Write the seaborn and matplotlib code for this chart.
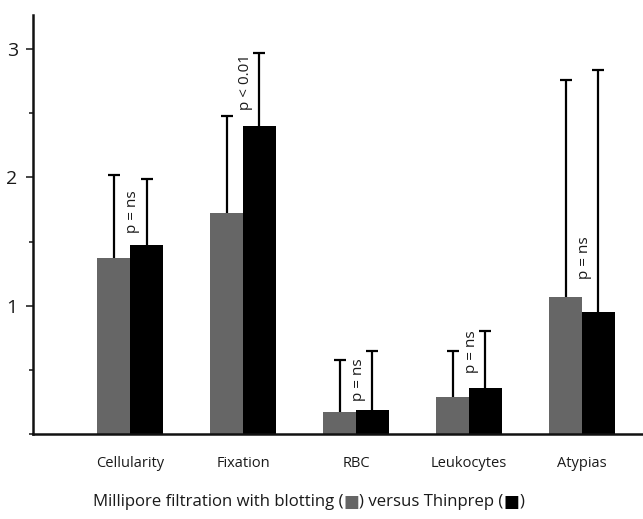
import matplotlib
matplotlib.use("Agg")
import matplotlib.pyplot as plt
from matplotlib.ticker import MultipleLocator
import seaborn as sns
import pandas as pd
import numpy as np

categories = ["Cellularity", "Fixation", "RBC", "Leukocytes", "Atypias"]
millipore = [1.37, 1.72, 0.17, 0.29, 1.07]
millipore_err_top = [2.02, 2.48, 0.58, 0.65, 2.76]
thinprep = [1.47, 2.40, 0.19, 0.36, 0.95]
thinprep_err_top = [1.99, 2.97, 0.65, 0.80, 2.84]
p_labels = ["p = ns", "p < 0.01", "p = ns", "p = ns", "p = ns"]
p_label_y = [1.73, 2.74, 0.42, 0.64, 1.37]
series = ["Millipore", "Thinprep"]
colors = ["#666666", "#000000"]

df = pd.DataFrame({
    "category": categories * 2,
    "value": millipore + thinprep,
    "method": [series[0]] * len(categories) + [series[1]] * len(categories),
})

sns.set_style("white")
plt.rcParams["font.family"] = ["Open Sans", "DejaVu Sans"]

fig = plt.figure(figsize=(6.43, 5.19), dpi=100)
ax = fig.add_axes([33 / 643, (519 - 434) / 519, 1 - 33 / 643, (434 - 15) / 519])

sns.barplot(data=df, x="category", y="value", hue="method", order=categories,
            hue_order=series, palette=colors, width=0.58, gap=0, errorbar=None,
            saturation=1, ax=ax, legend=False, linewidth=0)

tops = [millipore_err_top, thinprep_err_top]
for cont, top in zip(ax.containers, tops):
    xs = [b.get_x() + b.get_width() / 2 for b in cont]
    hs = [b.get_height() for b in cont]
    err = np.array(top) - np.array(hs)
    _, caps, _ = ax.errorbar(xs, hs, yerr=[np.zeros(len(hs)), err], fmt="none",
                             ecolor="black", elinewidth=1.6, capsize=4.5, capthick=1.6)
    # keep only the upper caps
    caps[0].remove()

for i, (lab, yy) in enumerate(zip(p_labels, p_label_y)):
    ax.text(i + 0.02, yy, lab, rotation=90, ha="center", va="center",
            fontsize=11, color="#1a1a1a")

ax.set_xlim(-0.86, 4.54)
ax.set_ylim(0, 3.265)
ax.set_yticks([1, 2, 3])
ax.yaxis.set_minor_locator(MultipleLocator(0.5))
ax.tick_params(axis="y", which="major", direction="out", length=5, width=1.2,
               labelsize=14, left=True, pad=6, labelcolor="#1a1a1a")
ax.tick_params(axis="y", which="minor", direction="out", length=3, width=1.2, left=True)
ax.tick_params(axis="x", length=0, labelsize=10.5, pad=16, labelcolor="#1a1a1a")

for s in ["top", "right"]:
    ax.spines[s].set_visible(False)
for s in ["left", "bottom"]:
    ax.spines[s].set_linewidth(1.8)
    ax.spines[s].set_color("#111111")

ax.set_ylabel("")
ax.set_xlabel("")

# x-axis caption with coloured squares
ycap = 1 - 502 / 519
fs = 12.1
t1 = fig.text(93 / 643, ycap, "Millipore filtration with blotting (", ha="left",
              va="center", fontsize=fs, color="#1a1a1a")
fig.canvas.draw()
r = fig.canvas.get_renderer()
def place(prev, s, color):
    bb = prev.get_window_extent(r)
    kw = {"family": ["DejaVu Sans"]} if s == "■" else {}
    t = fig.text(bb.x1 / fig.bbox.width, ycap, s, ha="left", va="center",
                 fontsize=fs, color=color, **kw)
    return t
t2 = place(t1, "■", "#666666")
t3 = place(t2, ") versus Thinprep (", "#1a1a1a")
t4 = place(t3, "■", "#000000")
t5 = place(t4, ")", "#1a1a1a")

fig.savefig("out.png", dpi=100)
